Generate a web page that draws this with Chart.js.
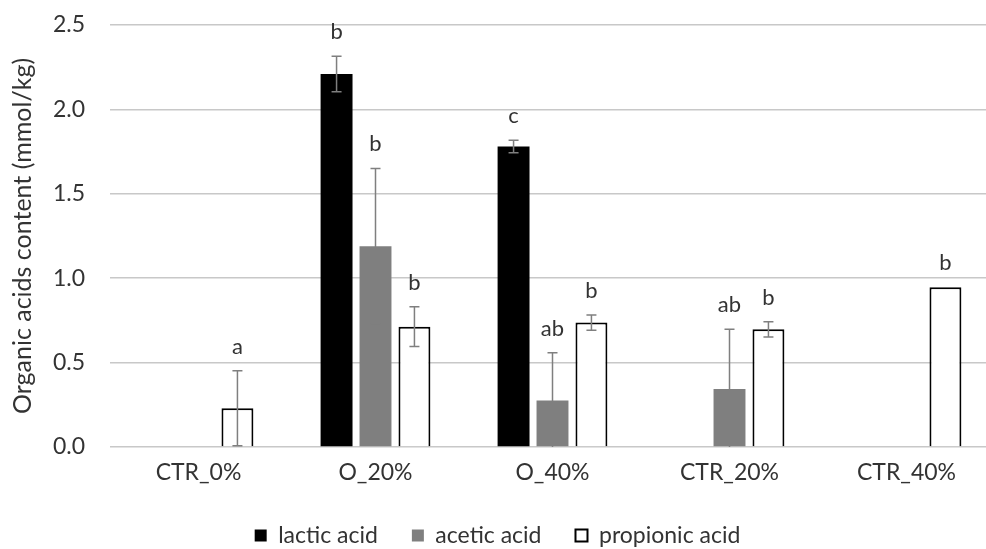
<!DOCTYPE html>
<html>
<head>
<meta charset="utf-8">
<script src="https://cdn.jsdelivr.net/npm/chart.js@4.4.1/dist/chart.umd.min.js"></script>
<style>
  html, body { margin: 0; padding: 0; background: #fff; overflow: hidden; }
  #wrap { width: 1000px; height: 549px; }
</style>
</head>
<body>
<div id="wrap"><canvas id="c" width="1000" height="549"></canvas></div>
<script>
// ---- data ----
const categories = ['CTR_0%', 'O_20%', 'O_40%', 'CTR_20%', 'CTR_40%'];
const seriesNames = ['lactic acid', 'acetic acid', 'propionic acid'];

const lactic      = [null, 2.21, 1.78, null, null];
const lacticErr   = [null, 0.105, 0.037, null, null];
const lacticLetters = ['', 'b', 'c', '', ''];

const acetic      = [null, 1.19, 0.275, 0.343, null];
const aceticErr   = [null, 0.46, 0.283, 0.354, null];
const aceticLetters = ['', 'b', 'ab', 'ab', ''];

const propionic   = [0.229, 0.713, 0.737, 0.697, 0.946];
const propionicErr = [0.222, 0.118, 0.045, 0.045, null];
const propionicLetters = ['a', 'b', 'b', 'b', 'b'];

const yTicks = [0, 0.5, 1.0, 1.5, 2.0, 2.5];
const yTitle = 'Organic acids content (mmol/kg)';

// ---- chart ----
const FONT = 'Lato, "Open Sans", sans-serif';
const TEXT = '#333333';

const errorBarPlugin = {
  id: 'errorBars',
  afterDatasetsDraw(chart) {
    const ctx = chart.ctx;
    const y = chart.scales.y;
    ctx.save();
    chart.data.datasets.forEach((ds, di) => {
      const meta = chart.getDatasetMeta(di);
      meta.data.forEach((bar, i) => {
        const v = ds.data[i];
        if (v === null || v === undefined) return;
        const e = ds.errors[i];
        let topPix = y.getPixelForValue(v);
        if (e !== null && e !== undefined) {
          const yHi = y.getPixelForValue(v + e);
          const lo = v - e;
          const yLo = y.getPixelForValue(Math.max(lo, 0));
          ctx.strokeStyle = '#7f7f7f';
          ctx.lineWidth = 1.5;
          ctx.beginPath();
          ctx.moveTo(bar.x, yHi);
          ctx.lineTo(bar.x, yLo);
          ctx.moveTo(bar.x - 5, yHi);
          ctx.lineTo(bar.x + 5, yHi);
          if (lo > 0) {
            ctx.moveTo(bar.x - 5, yLo);
            ctx.lineTo(bar.x + 5, yLo);
          }
          ctx.stroke();
          topPix = Math.min(topPix, yHi);
        }
        const letter = ds.letters[i];
        if (letter) {
          ctx.fillStyle = TEXT;
          ctx.font = '22px ' + FONT;
          ctx.textAlign = 'center';
          ctx.textBaseline = 'alphabetic';
          ctx.fillText(letter, bar.x, topPix - 17);
        }
      });
    });
    ctx.restore();
  }
};

new Chart(document.getElementById('c'), {
  type: 'bar',
  data: {
    labels: categories,
    datasets: [
      { label: seriesNames[0], data: lactic, errors: lacticErr, letters: lacticLetters,
        backgroundColor: '#000000', borderColor: '#000000', borderWidth: 0 },
      { label: seriesNames[1], data: acetic, errors: aceticErr, letters: aceticLetters,
        backgroundColor: '#7f7f7f', borderColor: '#7f7f7f', borderWidth: 0 },
      { label: seriesNames[2], data: propionic, errors: propionicErr, letters: propionicLetters,
        backgroundColor: '#ffffff', borderColor: '#000000', borderWidth: 2 }
    ]
  },
  options: {
    responsive: false,
    animation: false,
    devicePixelRatio: 1,
    categoryPercentage: 0.66,
    barPercentage: 0.82,
    layout: { padding: { top: 25, right: 5, left: 0, bottom: -8 } },
    plugins: {
      legend: {
        position: 'bottom',
        labels: {
          font: { family: FONT, size: 23 },
          color: TEXT,
          boxWidth: 12,
          boxHeight: 12,
          padding: 34
        }
      },
      tooltip: { enabled: false }
    },
    scales: {
      x: {
        grid: { display: false, drawTicks: false },
        border: { display: false },
        ticks: { font: { family: FONT, size: 23 }, color: TEXT, padding: 12, maxRotation: 0 },
        afterFit(s) { s.height = 43; }
      },
      y: {
        min: 0, max: 2.5,
        afterBuildTicks(s) { s.ticks = yTicks.map(v => ({ value: v })); },
        grid: { color: '#c8c8c8', lineWidth: 1.5, drawTicks: false },
        border: { display: false },
        ticks: {
          font: { family: FONT, size: 23 }, color: TEXT, padding: 25,
          callback: v => Number(v).toFixed(1)
        },
        title: { display: true, text: yTitle, font: { family: FONT, size: 25 }, color: TEXT, padding: { top: 8, bottom: 0 } },
        afterFit(s) { s.width = 110; s.paddingTop = 0; s.paddingBottom = 0; }
      }
    }
  },
  plugins: [errorBarPlugin]
});
</script>
</body>
</html>
